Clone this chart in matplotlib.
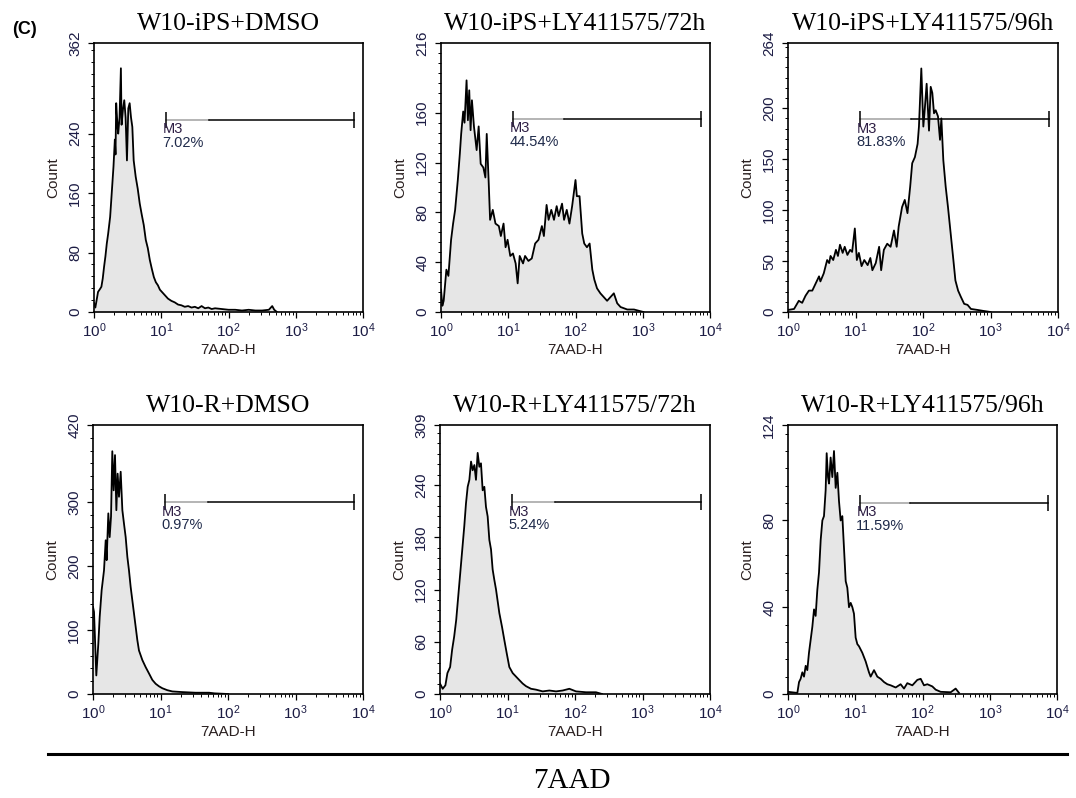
import numpy as np
import matplotlib
matplotlib.use('Agg')
import matplotlib.pyplot as plt
from matplotlib.ticker import MultipleLocator, LogLocator, NullFormatter
from matplotlib.lines import Line2D

plt.rcParams['font.family'] = 'Liberation Sans'
plt.rcParams['mathtext.fontset'] = 'custom'
plt.rcParams['mathtext.rm'] = 'Liberation Sans'

# Histogram outlines: (log10 of 7AAD-H, count)
hist_ips_dmso = [
    (0.00, 12), (0.02, 6), (0.06, 27), (0.09, 31), (0.11, 34), (0.13, 45), (0.15, 61),
    (0.17, 75), (0.19, 92), (0.21, 105), (0.24, 128), (0.26, 155), (0.29, 196), (0.31, 232),
    (0.32, 212), (0.33, 281), (0.35, 249), (0.36, 240), (0.38, 262), (0.40, 328), (0.41, 252),
    (0.43, 272), (0.45, 285), (0.47, 262), (0.49, 204), (0.51, 274), (0.53, 281), (0.55, 262),
    (0.57, 249), (0.59, 204), (0.62, 182), (0.65, 166), (0.68, 146), (0.71, 131), (0.74, 117),
    (0.77, 97), (0.80, 86), (0.83, 70), (0.86, 58), (0.89, 47), (0.92, 40), (0.95, 36),
    (0.98, 30), (1.02, 26), (1.06, 22), (1.10, 18), (1.15, 15), (1.20, 13), (1.25, 10),
    (1.30, 9), (1.35, 7), (1.40, 8), (1.45, 6), (1.50, 7), (1.55, 5), (1.60, 8), (1.65, 5),
    (1.70, 6), (1.75, 4), (1.80, 5), (1.90, 4), (2.00, 3), (2.10, 3), (2.20, 2), (2.30, 3),
    (2.40, 2), (2.50, 2), (2.60, 3), (2.65, 8), (2.68, 3), (2.72, 0),
]
hist_ips_72h = [
    (0.00, 18), (0.02, 5), (0.04, 9), (0.08, 34), (0.11, 29), (0.15, 58), (0.18, 71),
    (0.21, 82), (0.25, 106), (0.28, 127), (0.30, 143), (0.33, 161), (0.35, 152), (0.38, 186),
    (0.40, 154), (0.42, 178), (0.44, 146), (0.46, 170), (0.49, 149), (0.53, 130), (0.56, 149),
    (0.59, 119), (0.63, 116), (0.66, 108), (0.68, 143), (0.71, 103), (0.73, 74), (0.77, 82),
    (0.81, 71), (0.86, 69), (0.89, 61), (0.93, 71), (0.96, 52), (0.99, 58), (1.03, 45),
    (1.07, 47), (1.11, 39), (1.14, 23), (1.17, 45), (1.22, 39), (1.25, 45), (1.30, 41),
    (1.35, 43), (1.40, 55), (1.45, 58), (1.50, 69), (1.53, 61), (1.57, 86), (1.60, 74),
    (1.64, 82), (1.68, 74), (1.72, 85), (1.75, 77), (1.80, 87), (1.83, 74), (1.87, 82),
    (1.91, 71), (1.95, 85), (2.00, 106), (2.02, 93), (2.06, 93), (2.10, 63), (2.13, 55),
    (2.17, 52), (2.21, 55), (2.25, 34), (2.28, 26), (2.32, 19), (2.37, 15), (2.42, 12),
    (2.47, 9), (2.52, 12), (2.57, 15), (2.62, 7), (2.67, 4), (2.77, 2), (2.87, 2), (3.01, 0),
]
hist_ips_96h = [
    (0.00, 2), (0.09, 3), (0.16, 11), (0.21, 9), (0.26, 16), (0.31, 21), (0.36, 21),
    (0.41, 28), (0.46, 35), (0.48, 30), (0.53, 38), (0.58, 51), (0.61, 48), (0.63, 55),
    (0.67, 51), (0.71, 61), (0.74, 55), (0.77, 66), (0.81, 58), (0.84, 64), (0.88, 56),
    (0.92, 61), (0.95, 59), (0.99, 82), (1.02, 51), (1.05, 58), (1.09, 45), (1.13, 51),
    (1.18, 46), (1.22, 53), (1.25, 41), (1.30, 48), (1.35, 64), (1.38, 41), (1.42, 61),
    (1.47, 67), (1.52, 64), (1.57, 80), (1.61, 64), (1.64, 84), (1.69, 103), (1.73, 110),
    (1.77, 97), (1.81, 123), (1.84, 146), (1.88, 152), (1.92, 165), (1.94, 182), (1.975, 239),
    (2.005, 182), (2.025, 198), (2.054, 224), (2.089, 178), (2.114, 221), (2.138, 215),
    (2.163, 195), (2.188, 198), (2.222, 192), (2.252, 169), (2.272, 190), (2.301, 149),
    (2.336, 123), (2.37, 103), (2.41, 77), (2.45, 51), (2.48, 31), (2.52, 21), (2.56, 15),
    (2.61, 8), (2.66, 7), (2.71, 3), (2.81, 2), (2.90, 1), (3.00, 0),
]
hist_r_dmso = [
    (0.00, 136), (0.015, 128), (0.049, 29), (0.079, 79), (0.099, 120), (0.128, 162),
    (0.163, 193), (0.188, 240), (0.202, 209), (0.227, 282), (0.247, 245), (0.267, 277),
    (0.286, 379), (0.306, 318), (0.326, 373), (0.346, 287), (0.365, 344), (0.385, 308),
    (0.41, 347), (0.435, 287), (0.459, 266), (0.484, 245), (0.509, 214), (0.533, 193),
    (0.558, 167), (0.583, 146), (0.607, 126), (0.632, 105), (0.657, 84), (0.681, 68),
    (0.731, 53), (0.78, 42), (0.83, 32), (0.879, 22), (0.928, 16), (0.978, 12), (1.027, 9),
    (1.10, 6), (1.175, 4), (1.32, 3), (1.52, 2), (1.72, 2), (1.80, 1), (2.00, 0),
]
hist_r_72h = [
    (0.00, 12), (0.04, 6), (0.08, 10), (0.11, 24), (0.15, 31), (0.18, 51), (0.21, 66),
    (0.24, 85), (0.27, 112), (0.30, 139), (0.33, 166), (0.36, 193), (0.385, 219), (0.41, 238),
    (0.435, 246), (0.46, 267), (0.484, 257), (0.509, 263), (0.533, 246), (0.558, 277),
    (0.583, 261), (0.607, 265), (0.632, 234), (0.657, 238), (0.681, 215), (0.706, 204),
    (0.731, 177), (0.756, 166), (0.78, 143), (0.805, 131), (0.83, 120), (0.879, 93),
    (0.919, 77), (0.953, 62), (0.988, 47), (1.027, 31), (1.077, 24), (1.126, 20), (1.175, 16),
    (1.225, 12), (1.274, 9), (1.348, 6), (1.422, 5), (1.521, 3), (1.62, 4), (1.719, 3),
    (1.817, 4), (1.916, 6), (2.015, 3), (2.163, 2), (2.311, 2), (2.40, 0),
]
hist_r_96h = [
    (0.00, 1), (0.139, 0.5), (0.164, 5.5), (0.188, 7), (0.213, 10), (0.238, 8), (0.263, 13),
    (0.287, 11), (0.312, 19), (0.337, 25), (0.362, 31), (0.387, 39), (0.411, 36), (0.436, 48),
    (0.461, 56), (0.486, 71), (0.511, 80), (0.535, 82), (0.56, 94), (0.575, 111), (0.595, 100),
    (0.61, 97), (0.634, 109), (0.659, 100), (0.684, 112), (0.709, 95), (0.734, 102),
    (0.758, 89), (0.783, 80), (0.808, 82), (0.833, 67), (0.858, 52), (0.882, 49), (0.907, 40),
    (0.932, 42), (0.957, 40), (0.981, 37), (1.006, 26), (1.031, 23), (1.056, 22), (1.105, 19),
    (1.13, 17), (1.155, 15), (1.204, 10), (1.229, 8), (1.279, 11), (1.328, 8), (1.378, 7),
    (1.428, 5.5), (1.477, 4.5), (1.527, 4), (1.601, 3), (1.675, 4.5), (1.725, 2.5), (1.774, 5),
    (1.849, 4), (1.923, 6.5), (1.973, 7), (2.022, 4), (2.072, 4.5), (2.146, 3.5), (2.196, 2),
    (2.27, 1), (2.419, 0.8), (2.493, 2.5), (2.543, 0.5),
]

hists = [hist_ips_dmso, hist_ips_72h, hist_ips_96h, hist_r_dmso, hist_r_72h, hist_r_96h]
titles = ['W10-iPS+DMSO', 'W10-iPS+LY411575/72h', 'W10-iPS+LY411575/96h',
          'W10-R+DMSO', 'W10-R+LY411575/72h', 'W10-R+LY411575/96h']
y_max = [362, 216, 264, 420, 309, 124]
y_ticks = [[0, 80, 160, 240, 362], [0, 40, 80, 120, 160, 216], [0, 50, 100, 150, 200, 264],
           [0, 100, 200, 300, 420], [0, 60, 120, 180, 240, 309], [0, 40, 80, 124]]
y_step = [80, 40, 50, 100, 60, 40]

# M3 marker: height in counts, percentage, and where the grey part ends
gate_h = [259, 155, 189, 299, 220, 88]
gate_pct = ['7.02%', '44.54%', '81.83%', '0.97%', '5.24%', '11.59%']
gate_lo = 11.7
gate_hi = 7400
gate_grey_end = [51, 68, 66, 51, 50, 66]

W, H = 1076, 798
fig = plt.figure(figsize=(W / 100, H / 100), dpi=100)

# axes boxes in pixels: left, top, right, bottom
boxes = [(94, 43, 363, 312), (441, 43, 710, 312), (788, 43, 1058, 312),
         (93, 425, 363, 694), (440, 425, 710, 694), (788, 425, 1057, 694)]

TICK_C = '#1c1c44'
LAB_C = '#2a2020'

for i in range(6):
    l, t, r, b = boxes[i]
    ax = fig.add_axes([l / W, 1 - b / H, (r - l) / W, (b - t) / H])
    lg, cnt = np.array(hists[i]).T
    x = 10 ** lg
    ax.fill_between(x, cnt, 0, color='#e6e6e6', lw=0)
    ax.plot(x, cnt, color='k', lw=1.3)

    ax.set_xscale('log')
    ax.set_xlim(1, 1e4)
    ax.set_ylim(0, y_max[i])
    ax.set_xticks([1, 10, 100, 1000, 10000])
    ax.set_xticklabels([r'$\mathregular{10^{%d}}$' % k for k in range(5)])
    ax.xaxis.set_minor_locator(LogLocator(base=10, subs=np.arange(2, 10), numticks=20))
    ax.xaxis.set_minor_formatter(NullFormatter())
    ax.set_yticks(y_ticks[i])
    ax.set_yticklabels([str(v) for v in y_ticks[i]], rotation=90, va='center')
    ax.yaxis.set_minor_locator(MultipleLocator(y_step[i] / 5))

    ax.tick_params(which='major', direction='out', length=4.5, width=0.9,
                   labelsize=11, labelcolor=TICK_C)
    ax.tick_params(which='minor', direction='out', length=2.2, width=0.7)
    ax.tick_params(axis='y', which='major', pad=4)
    ax.tick_params(axis='x', which='major', pad=2.5)
    for s in ax.spines.values():
        s.set_linewidth(1.2)

    ax.set_ylabel('Count', fontsize=11, color=LAB_C, labelpad=6)
    ax.set_xlabel('7AAD-H', fontsize=11, color=LAB_C, labelpad=2)

    ax.text(0.5, 1.049, titles[i], transform=ax.transAxes, ha='center', va='baseline',
            fontsize=18.5, family='Liberation Serif')

    # M3 marker
    h = gate_h[i]
    ax.plot([gate_lo, gate_grey_end[i]], [h, h], color='#a0a0a0', lw=1.1)
    ax.plot([gate_grey_end[i], gate_hi], [h, h], color='k', lw=1.1)
    ax.plot([gate_lo, gate_hi], [h, h], ls='none', marker='|', ms=12, mew=1.1, color='k')
    ax.annotate('M3', xy=(gate_lo, h), xytext=(-2.5, -1.5), textcoords='offset points',
                ha='left', va='top', fontsize=10.5, color='#2e1f45')
    ax.annotate(gate_pct[i], xy=(gate_lo, h), xytext=(-2.5, -11.5), textcoords='offset points',
                ha='left', va='top', fontsize=10.5, color='#1f2a4a')

fig.text(12 / W, 1 - 29 / H, '(C)', fontsize=13, fontweight='bold', va='center', ha='left')
fig.add_artist(Line2D([48 / W, 1067 / W], [1 - 754 / H, 1 - 754 / H], color='k', lw=2.2))
fig.text(572 / W, 1 - 781 / H, '7AAD', fontsize=21, family='Liberation Serif',
         ha='center', va='center')

fig.savefig('out.png', dpi=100)
